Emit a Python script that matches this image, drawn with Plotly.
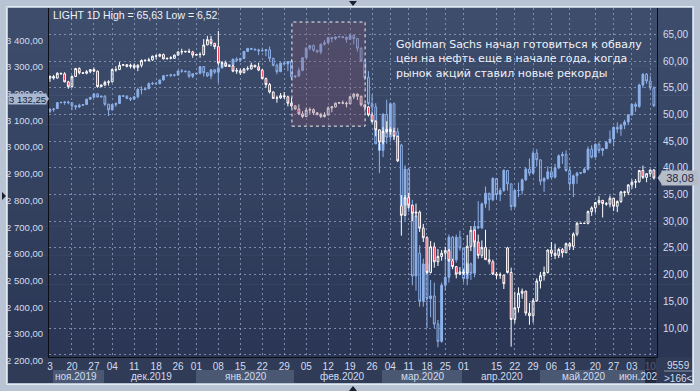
import plotly.graph_objects as go

# ---------------- data ----------------
dates = [
    # Nov 2019
    "2019-11-13", "2019-11-14", "2019-11-15", "2019-11-17", "2019-11-18", "2019-11-19", "2019-11-20",
    "2019-11-21", "2019-11-22", "2019-11-24", "2019-11-25", "2019-11-26", "2019-11-27", "2019-11-29",
    # Dec 2019
    "2019-12-01", "2019-12-02", "2019-12-03", "2019-12-04", "2019-12-05", "2019-12-06",
    "2019-12-08", "2019-12-09", "2019-12-10", "2019-12-11", "2019-12-12", "2019-12-13",
    "2019-12-15", "2019-12-16", "2019-12-17", "2019-12-18", "2019-12-19", "2019-12-20",
    "2019-12-22", "2019-12-23", "2019-12-24", "2019-12-26", "2019-12-27",
    "2019-12-29", "2019-12-30", "2019-12-31",
    # Jan 2020
    "2020-01-01", "2020-01-02", "2020-01-03",
    "2020-01-05", "2020-01-06", "2020-01-07", "2020-01-08", "2020-01-09", "2020-01-10",
    "2020-01-12", "2020-01-13", "2020-01-14", "2020-01-15", "2020-01-16", "2020-01-17",
    "2020-01-19", "2020-01-20", "2020-01-21", "2020-01-22", "2020-01-23", "2020-01-24",
    "2020-01-26", "2020-01-27", "2020-01-28", "2020-01-29", "2020-01-30", "2020-01-31",
    # Feb 2020
    "2020-02-02", "2020-02-03", "2020-02-04", "2020-02-05", "2020-02-06", "2020-02-07",
    "2020-02-09", "2020-02-10", "2020-02-11", "2020-02-12", "2020-02-13", "2020-02-14",
    "2020-02-16", "2020-02-17", "2020-02-18", "2020-02-19", "2020-02-20", "2020-02-21",
    "2020-02-23", "2020-02-24", "2020-02-25", "2020-02-26", "2020-02-27", "2020-02-28",
    # Mar 2020
    "2020-03-02", "2020-03-03", "2020-03-04", "2020-03-05", "2020-03-06",
    "2020-03-09", "2020-03-10", "2020-03-11", "2020-03-12", "2020-03-13",
    "2020-03-16", "2020-03-17", "2020-03-18", "2020-03-19", "2020-03-20",
    "2020-03-23", "2020-03-24", "2020-03-25", "2020-03-26", "2020-03-27",
    "2020-03-30", "2020-03-31",
    # Apr 2020
    "2020-04-01", "2020-04-02", "2020-04-03",
    "2020-04-06", "2020-04-07", "2020-04-08", "2020-04-09",
    "2020-04-13", "2020-04-14", "2020-04-15", "2020-04-16", "2020-04-17",
    "2020-04-20", "2020-04-21", "2020-04-22", "2020-04-23", "2020-04-24",
    "2020-04-27", "2020-04-28", "2020-04-29", "2020-04-30",
    # May 2020
    "2020-05-01",
    "2020-05-04", "2020-05-05", "2020-05-06", "2020-05-07", "2020-05-08",
    "2020-05-11", "2020-05-12", "2020-05-13", "2020-05-14", "2020-05-15", "2020-05-16", "2020-05-17",
    "2020-05-18", "2020-05-19", "2020-05-20", "2020-05-21", "2020-05-22",
    "2020-05-25", "2020-05-26", "2020-05-27", "2020-05-28", "2020-05-29",
    # Jun 2020
    "2020-06-01", "2020-06-02", "2020-06-03", "2020-06-04", "2020-06-05",
    "2020-06-08", "2020-06-09", "2020-06-10", "2020-06-11",
]

# S&P 500 (left axis)
sp_open = [
    3112, 3118, 3122, 3144, 3145, 3146, 3144, 3132, 3128, 3134, 3137, 3157, 3164, 3177,
    3165, 3168, 3138, 3117, 3137, 3141, 3170, 3168, 3160, 3157, 3166, 3193,
    3193, 3196, 3215, 3216, 3215, 3229, 3245, 3246, 3248, 3247, 3263, 3262, 3260, 3243,
    3252, 3254, 3279, 3256, 3244, 3267, 3258, 3274, 3294, 3285, 3286, 3307, 3303, 3309, 3336,
    3347, 3344, 3342, 3338, 3339, 3342, 3310, 3284, 3260, 3292, 3289, 3298,
    3240, 3244, 3264, 3312, 3348, 3358, 3340, 3334, 3363, 3368, 3388, 3384,
    3390, 3391, 3388, 3381, 3396, 3384, 3348, 3300, 3238, 3140, 3128, 2990,
    2965, 3100, 3015, 3140, 3035, 2985, 2760, 2895, 2750, 2495,
    2580, 2400, 2540, 2410, 2420, 2315, 2250, 2460, 2490, 2640, 2555, 2640,
    2600, 2485, 2540, 2505, 2680, 2675, 2765, 2805, 2780, 2860, 2800, 2815,
    2890, 2840, 2755, 2815, 2815, 2855, 2895, 2880, 2955,
    2930, 2850, 2860, 2885, 2865, 2900, 2945, 2950, 2890, 2840, 2870, 2880, 2882,
    2895, 2970, 2940, 2988, 2965, 2972, 2995, 3008, 3052, 3045,
    3060, 3072, 3098, 3138, 3130, 3210, 3250, 3225, 3198,
]
sp_high = [
    3124, 3124, 3145, 3147, 3150, 3151, 3145, 3136, 3140, 3138, 3158, 3164, 3178, 3179,
    3170, 3172, 3140, 3140, 3145, 3173, 3172, 3172, 3165, 3168, 3200, 3205,
    3198, 3220, 3222, 3222, 3230, 3247, 3248, 3252, 3250, 3264, 3270, 3264, 3264, 3253,
    3256, 3280, 3280, 3258, 3268, 3270, 3285, 3296, 3303, 3288, 3308, 3314, 3312, 3337, 3349,
    3349, 3347, 3346, 3350, 3345, 3354, 3312, 3290, 3295, 3300, 3300, 3308,
    3246, 3275, 3315, 3352, 3360, 3362, 3342, 3365, 3378, 3390, 3390, 3392,
    3393, 3393, 3392, 3402, 3400, 3386, 3350, 3305, 3262, 3175, 3142, 3010,
    3105, 3155, 3145, 3145, 3050, 2990, 2910, 2900, 2780, 2725,
    2610, 2560, 2545, 2480, 2470, 2330, 2470, 2560, 2650, 2645, 2650, 2665,
    2600, 2545, 2545, 2700, 2775, 2770, 2830, 2805, 2865, 2860, 2825, 2895,
    2890, 2840, 2820, 2845, 2860, 2900, 2935, 2965, 2970,
    2930, 2865, 2905, 2905, 2915, 2950, 2960, 2965, 2905, 2875, 2885, 2884, 2900,
    2980, 2985, 2990, 2995, 2975, 3000, 3040, 3055, 3070, 3065,
    3080, 3100, 3140, 3145, 3215, 3255, 3255, 3245, 3205,
]
sp_low = [
    3105, 3110, 3120, 3141, 3136, 3138, 3116, 3117, 3124, 3132, 3136, 3154, 3162, 3163,
    3164, 3132, 3094, 3114, 3128, 3140, 3166, 3157, 3150, 3154, 3160, 3175,
    3190, 3196, 3210, 3210, 3213, 3226, 3243, 3240, 3242, 3246, 3256, 3258, 3236, 3236,
    3250, 3250, 3242, 3240, 3232, 3252, 3218, 3272, 3283, 3282, 3282, 3296, 3298, 3308, 3334,
    3342, 3340, 3322, 3336, 3318, 3300, 3280, 3250, 3258, 3283, 3262, 3230,
    3236, 3240, 3262, 3308, 3340, 3335, 3330, 3325, 3358, 3366, 3370, 3378,
    3388, 3385, 3368, 3380, 3362, 3335, 3296, 3228, 3135, 3110, 2990, 2880,
    2940, 2990, 3000, 3005, 2925, 2730, 2700, 2735, 2460, 2440,
    2380, 2380, 2300, 2340, 2300, 2228, 2245, 2440, 2470, 2540, 2545, 2590,
    2470, 2460, 2480, 2490, 2670, 2670, 2750, 2740, 2775, 2780, 2775, 2810,
    2815, 2740, 2750, 2790, 2800, 2850, 2870, 2875, 2905,
    2835, 2810, 2855, 2860, 2860, 2895, 2915, 2885, 2815, 2790, 2840, 2876, 2880,
    2890, 2935, 2938, 2955, 2945, 2970, 2990, 2980, 3030, 3020,
    3045, 3060, 3095, 3110, 3125, 3200, 3215, 3190, 3128,
]
sp_close = [
    3118, 3120, 3144, 3145, 3146, 3144, 3132, 3128, 3134, 3137, 3157, 3164, 3177, 3165,
    3168, 3138, 3117, 3137, 3141, 3170, 3168, 3160, 3157, 3166, 3193, 3193,
    3196, 3215, 3216, 3215, 3229, 3245, 3246, 3248, 3247, 3263, 3262, 3260, 3243, 3252,
    3254, 3279, 3256, 3244, 3267, 3258, 3274, 3294, 3285, 3286, 3307, 3303, 3309, 3336, 3347,
    3344, 3342, 3338, 3339, 3342, 3310, 3284, 3260, 3292, 3289, 3298, 3240,
    3244, 3264, 3312, 3348, 3358, 3340, 3334, 3363, 3368, 3388, 3384, 3390,
    3391, 3388, 3381, 3396, 3384, 3348, 3300, 3238, 3140, 3128, 2990, 2965,
    3100, 3015, 3140, 3035, 2985, 2760, 2895, 2750, 2495, 2720,
    2400, 2540, 2410, 2420, 2315, 2250, 2460, 2490, 2640, 2555, 2640, 2600,
    2485, 2540, 2505, 2680, 2675, 2765, 2805, 2780, 2860, 2800, 2815, 2890,
    2840, 2755, 2815, 2815, 2855, 2895, 2880, 2955, 2930,
    2850, 2860, 2885, 2865, 2900, 2945, 2950, 2890, 2840, 2870, 2880, 2882, 2895,
    2970, 2940, 2988, 2965, 2972, 2995, 3008, 3052, 3045, 3060,
    3072, 3098, 3138, 3130, 3210, 3250, 3225, 3200, 3132.25,
]

# LIGHT (crude oil, right axis)
oil_open = [
    56.8, 57.1, 56.8, 57.7, 57.6, 56.1, 55.2, 57.1, 58.6, 57.8, 57.7, 58.0, 58.4, 58.1,
    55.2, 55.5, 56.0, 56.1, 58.3, 58.4, 59.2, 59.3, 59.0, 59.2, 58.8, 59.2,
    60.1, 60.1, 60.2, 60.9, 60.9, 61.2, 60.4, 60.5, 60.5, 61.1, 61.7, 61.7, 61.8, 61.7,
    61.1, 61.2, 61.2, 63.0, 64.0, 63.3, 62.7, 59.6, 59.6, 59.0, 59.1, 58.1, 58.2, 57.8, 58.5,
    58.5, 59.2, 58.9, 58.3, 56.7, 55.6, 54.2, 53.0, 53.1, 53.5, 53.3, 52.1,
    51.6, 51.0, 50.1, 49.6, 50.8, 50.9, 50.3, 50.0, 49.6, 49.9, 51.2, 51.4,
    52.1, 52.2, 52.1, 52.0, 53.3, 53.8, 53.4, 51.8, 51.4, 49.9, 48.7, 47.1,
    44.8, 46.8, 47.2, 46.8, 45.9, 32.9, 31.1, 34.4, 33.0, 31.5,
    31.7, 28.7, 26.9, 20.4, 25.2, 22.4, 23.4, 24.0, 24.5, 22.6, 21.5, 20.1,
    20.5, 20.3, 25.3, 28.3, 26.1, 23.6, 25.1, 22.8, 22.4, 20.1, 19.9, 19.9,
    25.0, 20.4, 11.6, 13.8, 16.5, 16.9, 12.8, 12.3, 15.1,
    18.8, 19.8, 20.4, 24.6, 24.0, 23.6, 24.7, 24.1, 25.8, 25.3, 27.6, 29.6, 29.6,
    29.6, 31.8, 32.5, 33.5, 33.9, 33.3, 33.2, 34.3, 32.8, 33.7,
    35.5, 35.4, 36.8, 37.3, 37.4, 39.5, 38.2, 38.9, 39.6,
]
oil_high = [
    57.3, 57.4, 57.9, 57.8, 57.9, 56.3, 57.3, 58.7, 58.8, 57.9, 58.3, 58.5, 58.8, 58.2,
    55.6, 56.3, 56.4, 58.6, 59.0, 59.8, 59.4, 59.4, 59.5, 59.5, 59.4, 60.3,
    60.2, 60.6, 61.0, 61.2, 61.4, 61.4, 60.6, 60.9, 61.2, 61.8, 62.3, 61.9, 62.3, 61.9,
    61.3, 61.6, 64.1, 64.7, 64.7, 63.4, 65.63, 60.0, 59.9, 59.2, 59.3, 58.7, 58.6, 58.7, 59.0,
    59.7, 59.3, 59.7, 58.5, 56.9, 55.9, 54.3, 53.5, 54.0, 54.2, 53.5, 53.1,
    51.7, 51.9, 50.6, 51.3, 51.3, 51.1, 50.4, 50.3, 50.4, 51.5, 51.6, 52.2,
    52.3, 52.6, 52.4, 53.5, 54.0, 53.9, 53.5, 52.0, 51.6, 50.5, 48.9, 47.2,
    47.6, 48.7, 47.6, 47.5, 46.0, 34.9, 34.9, 35.3, 33.1, 33.3,
    32.0, 29.5, 27.2, 26.3, 26.0, 24.8, 24.6, 25.2, 24.8, 22.9, 21.6, 21.4,
    21.0, 27.4, 29.1, 28.4, 27.5, 26.4, 28.4, 24.7, 22.8, 20.5, 20.4, 20.0,
    25.2, 21.3, 16.8, 17.6, 17.4, 17.0, 14.7, 15.6, 19.3,
    20.5, 21.5, 24.7, 26.1, 25.8, 25.0, 25.0, 26.0, 26.1, 27.9, 29.9, 29.7, 29.7,
    32.0, 32.8, 33.6, 34.7, 34.0, 33.6, 34.8, 34.4, 33.9, 35.6,
    35.7, 36.9, 37.8, 37.9, 39.6, 40.4, 39.0, 39.6, 39.7,
]
oil_low = [
    56.1, 56.5, 56.7, 57.5, 56.0, 54.8, 55.0, 57.0, 57.5, 57.6, 57.5, 57.7, 57.9, 55.0,
    55.1, 55.3, 55.4, 56.0, 58.0, 58.3, 59.1, 58.8, 58.6, 58.5, 58.1, 58.8,
    59.9, 59.9, 60.0, 60.3, 60.7, 60.3, 60.3, 60.3, 60.4, 61.0, 61.2, 61.6, 61.5, 60.6,
    61.0, 60.6, 61.0, 63.0, 62.8, 62.2, 59.2, 58.8, 58.9, 58.9, 57.9, 57.6, 57.4, 57.7, 58.2,
    58.4, 58.8, 58.1, 56.6, 55.0, 53.9, 52.9, 52.2, 52.9, 52.9, 51.5, 51.3,
    50.9, 49.9, 49.3, 49.5, 50.1, 49.9, 49.8, 49.3, 49.4, 49.8, 50.4, 51.3,
    52.0, 51.9, 51.3, 51.9, 52.9, 52.7, 51.5, 50.5, 49.6, 48.3, 45.9, 43.3,
    44.4, 46.4, 46.2, 45.2, 41.1, 27.3, 31.0, 32.4, 30.0, 30.7,
    28.0, 26.1, 20.1, 20.2, 21.3, 21.6, 22.6, 22.9, 22.4, 21.0, 19.3, 19.9,
    19.9, 20.0, 24.4, 25.1, 23.0, 23.1, 22.8, 21.9, 19.9, 19.2, 19.2, 17.3,
    20.2, 6.52, 10.9, 12.9, 15.5, 12.3, 10.6, 11.0, 14.9,
    17.4, 18.9, 20.2, 23.3, 22.9, 23.1, 23.2, 24.0, 24.6, 24.6, 27.2, 29.6, 29.6,
    29.4, 31.0, 31.6, 33.0, 30.7, 32.9, 32.6, 31.9, 31.7, 33.4,
    34.6, 34.9, 36.1, 36.2, 37.2, 37.9, 37.3, 38.3, 37.8,
]
oil_close = [
    57.1, 56.8, 57.7, 57.6, 56.1, 55.2, 57.1, 58.6, 57.8, 57.7, 58.0, 58.4, 58.1, 55.2,
    55.5, 56.0, 56.1, 58.4, 58.4, 59.2, 59.3, 59.0, 59.2, 58.8, 59.2, 60.1,
    60.15, 60.2, 60.9, 60.95, 61.2, 60.4, 60.5, 60.6, 61.1, 61.7, 61.75, 61.8, 61.7, 61.1,
    61.2, 61.25, 63.0, 64.0, 63.3, 62.7, 59.6, 59.65, 59.0, 59.1, 58.1, 58.2, 57.8, 58.5, 58.55,
    59.2, 58.9, 58.3, 56.7, 55.6, 54.2, 53.0, 53.1, 53.5, 53.3, 52.1, 51.6,
    51.0, 50.1, 49.6, 50.8, 50.9, 50.3, 50.0, 49.6, 49.9, 51.2, 51.4, 52.1,
    52.2, 52.1, 52.0, 53.3, 53.8, 53.4, 51.8, 51.4, 49.9, 48.7, 47.1, 44.8,
    46.8, 47.2, 46.8, 45.9, 41.3, 31.1, 34.4, 33.0, 31.5, 31.7,
    28.7, 26.9, 20.4, 25.2, 22.4, 23.4, 24.0, 24.5, 22.6, 21.5, 20.1, 20.5,
    20.3, 25.3, 28.3, 26.1, 23.6, 25.1, 22.8, 22.4, 20.1, 19.9, 19.95, 18.3,
    20.4, 11.6, 13.8, 16.5, 16.9, 12.8, 12.3, 15.1, 18.8,
    19.8, 20.4, 24.6, 24.0, 23.6, 24.7, 24.1, 25.8, 25.3, 27.6, 29.6, 29.6, 29.6,
    31.8, 32.5, 33.5, 33.9, 33.3, 33.2, 34.3, 32.8, 33.7, 35.5,
    35.4, 36.8, 37.3, 37.4, 39.5, 38.2, 38.9, 39.6, 38.08,
]

x_tick_dates = ["2019-11-13", "2019-11-20", "2019-11-27", "2019-12-04", "2019-12-11", "2019-12-18",
                "2019-12-26", "2020-01-01", "2020-01-08", "2020-01-15", "2020-01-22", "2020-01-29",
                "2020-02-05", "2020-02-12", "2020-02-19", "2020-02-26", "2020-03-04", "2020-03-11",
                "2020-03-18", "2020-03-25", "2020-04-01", "2020-04-15", "2020-04-22", "2020-04-29",
                "2020-05-06", "2020-05-13", "2020-05-20", "2020-05-27", "2020-06-03", "2020-06-10"]
x_tick_text = ["3", "20", "27", "04", "11", "18", "26", "01", "08", "15", "22", "29", "05", "12",
               "19", "26", "04", "11", "18", "25", "01", "15", "22", "29", "06", "13", "20", "27",
               "03", "10"]
month_labels = ["ноя.2019", "дек.2019", "янв.2020", "фев.2020", "мар.2020", "апр.2020", "май.2020", "июн.202"]

sp_ticks = [2200, 2300, 2400, 2500, 2600, 2700, 2800, 2900, 3000, 3100, 3200, 3300, 3400]
oil_ticks = [10, 15, 20, 25, 30, 35, 40, 45, 50, 55, 60, 65]

title_text = "LIGHT 1D High = 65,63 Low = 6,52"
note_text = ("Goldman Sachs начал готовиться к обвалу<br>"
             "цен на нефть еще в начале года, когда<br>"
             "рынок акций ставил новые рекорды")

# ---------------- styling ----------------
W, H = 700, 391
L, R, T, B = 49, 657, 8, 357


def px(xp):
    return (xp - L) / (R - L)


def py(yp):
    return (B - yp) / (B - T)


def fmt(v, dec=2):
    s = f"{v:,.{dec}f}"
    return s.replace(",", " ").replace(".", ",")


SP_COL = "#8db1ea"
RED = "#e3112c"
GRID = "rgba(150,166,198,0.75)"
LABEL = "#d3dcee"
FONT = "Liberation Sans"

fig = go.Figure()
fig.add_trace(go.Candlestick(
    x=dates, open=sp_open, high=sp_high, low=sp_low, close=sp_close, yaxis="y",
    increasing=dict(line=dict(color=SP_COL, width=1), fillcolor=SP_COL),
    decreasing=dict(line=dict(color=SP_COL, width=1), fillcolor="rgba(0,0,0,0)"),
    whiskerwidth=0, showlegend=False, hoverinfo="skip"))
fig.add_trace(go.Candlestick(
    x=dates, open=oil_open, high=oil_high, low=oil_low, close=oil_close, yaxis="y2",
    increasing=dict(line=dict(color="#ffffff", width=1), fillcolor="rgba(0,0,0,0)"),
    decreasing=dict(line=dict(color="#ffffff", width=1), fillcolor=RED),
    whiskerwidth=0, showlegend=False, hoverinfo="skip"))

shapes = []
# dark frame with vertical gradient
top_c = (62, 77, 108)
bot_c = (42, 54, 84)
n = 24
for i in range(n):
    t = i / (n - 1)
    c = tuple(round(top_c[k] + (bot_c[k] - top_c[k]) * t) for k in range(3))
    y0p = T + (B - T) * i / n
    y1p = T + (B - T) * (i + 1) / n + 0.5
    shapes.append(dict(type="rect", xref="paper", yref="paper", x0=px(8), x1=px(692),
                       y0=py(y1p), y1=py(y0p), fillcolor=f"rgb{c}", line_width=0, layer="below"))
# bottom axis band
shapes.append(dict(type="rect", xref="paper", yref="paper", x0=px(8), x1=px(692), y0=py(383), y1=py(B),
                   fillcolor="#2f3b57", line_width=0, layer="below"))
for a, b in [(53, 104), (196, 294), (382, 462), (540, 645)]:
    shapes.append(dict(type="rect", xref="paper", yref="paper", x0=px(a), x1=px(b), y0=py(383), y1=py(370),
                       fillcolor="#4a5873", line_width=0, layer="below"))
shapes.append(dict(type="rect", xref="paper", yref="paper", x0=px(645), x1=px(656), y0=py(383), y1=py(358),
                   fillcolor="rgba(30,36,52,0.7)", line_width=0, layer="above"))
# light outer border
shapes.append(dict(type="rect", xref="paper", yref="paper", x0=px(6.5), x1=px(693.5), y0=py(384.5), y1=py(6.5),
                   line=dict(color="#e3e9f1", width=1), fillcolor="rgba(0,0,0,0)", layer="below"))
# bottom-right box separator
shapes.append(dict(type="line", xref="paper", yref="paper", x0=px(664), x1=px(692), y0=py(371), y1=py(371),
                   line=dict(color="#8a97b0", width=1), layer="above"))
# highlight rectangle
shapes.append(dict(type="rect", xref="x", yref="y", x0=66.1, x1=86.1, y0=3056, y1=3446,
                   fillcolor="rgba(125,78,105,0.30)", line=dict(color="#f0f0f0", width=1, dash="dot"),
                   layer="above"))
# navigation triangles
for path in [
    f"M {px(349)} {py(1)} L {px(357)} {py(1)} L {px(353)} {py(6)} Z",
    f"M {px(2)} {py(192)} L {px(2)} {py(200)} L {px(6)} {py(196)} Z",
    f"M {px(349)} {py(391)} L {px(357)} {py(391)} L {px(353)} {py(386)} Z",
]:
    shapes.append(dict(type="path", xref="paper", yref="paper", path=path,
                       fillcolor="#1a2030", line_width=0, layer="above"))

sp_last = sp_close[-1]
oil_last = oil_close[-1]

# last-value marker pointers (small arrow tips next to the value boxes)
sp_mark_y = 34.3 + (3400 - sp_last) / 100 * 26.7 - 7
oil_mark_y = 34.3 + (65 - oil_last) / 5 * 26.7
shapes.append(dict(type="path", xref="paper", yref="paper",
                   path=f"M {px(46)} {py(sp_mark_y - 4.5)} L {px(49)} {py(sp_mark_y)} L {px(46)} {py(sp_mark_y + 4.5)} Z",
                   fillcolor="#a9b8d0", line_width=0, layer="above"))
shapes.append(dict(type="path", xref="paper", yref="paper",
                   path=f"M {px(662)} {py(oil_mark_y - 6.5)} L {px(657.5)} {py(oil_mark_y)} L {px(662)} {py(oil_mark_y + 6.5)} Z",
                   fillcolor="#b6bdc8", line_width=0, layer="above"))

annotations = [
    dict(xref="paper", yref="paper", x=px(51), y=py(15), xanchor="left", yanchor="middle",
         text=title_text, showarrow=False, font=dict(family=FONT, size=10.5, color="#eef2f8")),
    dict(xref="paper", yref="paper", x=px(394), y=py(36), xanchor="left", yanchor="top", align="left",
         text=note_text, showarrow=False, font=dict(family="DejaVu Sans", size=11, color="#eef2fa")),
    dict(xref="paper", yref="y", x=px(27.5), y=sp_last, yshift=7, xanchor="center", yanchor="middle",
         text=fmt(sp_last), showarrow=False, bgcolor="#a9b8d0", borderpad=0, width=37, height=10,
         font=dict(family=FONT, size=9.5, color="#13203a")),
    dict(xref="paper", yref="y2", x=px(679.5), y=oil_last, xanchor="center", yanchor="middle",
         text=fmt(oil_last), showarrow=False, bgcolor="#b6bdc8", borderpad=1, width=34,
         font=dict(family=FONT, size=11, color="#1b2a4a")),
    dict(xref="paper", yref="paper", x=px(678), y=py(365), xanchor="center", yanchor="middle",
         text="9559", showarrow=False, font=dict(family=FONT, size=10, color=LABEL)),
    dict(xref="paper", yref="paper", x=px(678), y=py(378.5), xanchor="center", yanchor="middle",
         text="&gt;166&lt;", showarrow=False, font=dict(family=FONT, size=10, color=LABEL)),
]
for lab, cx in zip(month_labels, [76, 151, 246, 342, 422, 502, 583, 638]):
    annotations.append(dict(xref="paper", yref="paper", x=px(cx), y=py(376.5), xanchor="center",
                            yanchor="middle", text=lab, showarrow=False,
                            font=dict(family=FONT, size=10, color=LABEL)))

fig.update_layout(
    width=W, height=H, template="none",
    margin=dict(l=L, r=W - R, t=T, b=H - B, autoexpand=False),
    paper_bgcolor="#b8c4d3", plot_bgcolor="rgba(0,0,0,0)",
    showlegend=False, boxmode="overlay", boxgap=0.3,
    shapes=shapes, annotations=annotations,
    xaxis=dict(type="category", range=[-0.27, 165.85], rangeslider=dict(visible=False),
               tickmode="array", tickvals=x_tick_dates, ticktext=x_tick_text,
               showgrid=True, gridcolor=GRID, griddash="2px,3px", gridwidth=1,
               ticks="", ticklabelstandoff=0, zeroline=False,
               tickfont=dict(family=FONT, size=10, color=LABEL),
               showline=True, linecolor="#0b0e14", linewidth=1),
    yaxis=dict(range=[2191.4, 3498.5], tickmode="array", tickvals=sp_ticks,
               ticktext=[fmt(v) for v in sp_ticks], side="left",
               showgrid=True, gridcolor=GRID, griddash="2px,3px", gridwidth=1,
               ticks="", ticklabelstandoff=3, ticklabelshift=6, zeroline=False,
               tickfont=dict(family=FONT, size=9.5, color=LABEL),
               showline=True, linecolor="#0b0e14", linewidth=1),
    yaxis2=dict(range=[(2191.4 - 2100) / 20, (3498.5 - 2100) / 20], overlaying="y", side="right",
                tickmode="array", tickvals=oil_ticks, ticktext=[fmt(v) for v in oil_ticks],
                showgrid=False, ticks="", ticklabelstandoff=3, zeroline=False,
                tickfont=dict(family=FONT, size=10, color=LABEL),
                showline=True, linecolor="#0b0e14", linewidth=1),
)

fig.write_html("out.html", config={"displayModeBar": False},
               post_script="document.body.style.margin='0px';document.body.style.overflow='hidden';")
